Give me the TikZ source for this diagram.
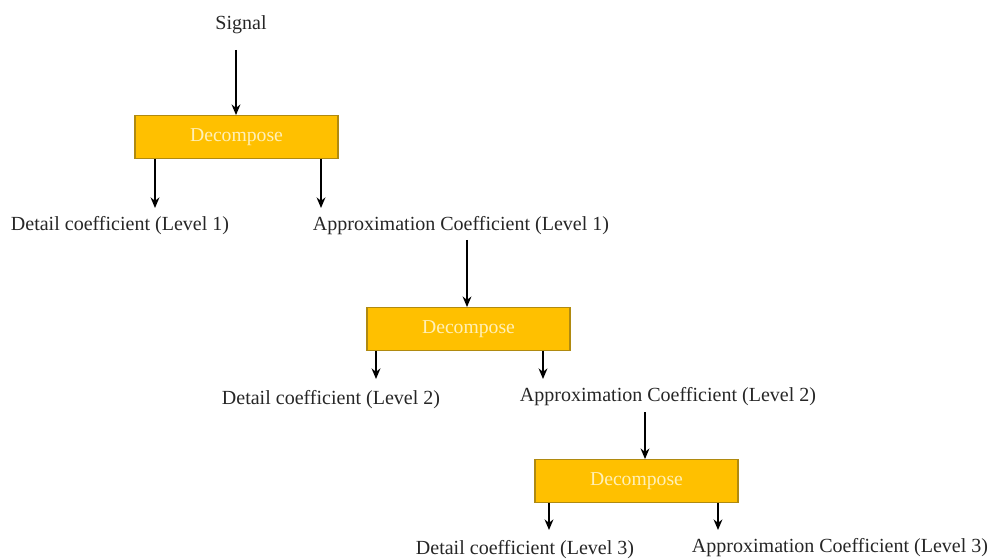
\documentclass[tikz,border=0pt]{standalone}
\usepackage{fontspec}
\setmainfont{Liberation Serif}
\usetikzlibrary{arrows.meta}
\definecolor{boxfill}{HTML}{FFC000}
\definecolor{boxedge}{HTML}{B08A10}
\definecolor{boxtext}{HTML}{FFF0B8}
\tikzset{
  px/.style={x=0.02cm,y=-0.02cm},
  decbox/.style={draw=boxedge, fill=boxfill, line width=0.8pt, minimum width=4.06cm, minimum height=0.85cm, inner sep=0pt, text=boxtext, font=\fontsize{11.2}{13}\selectfont},
  lbl/.style={font=\fontsize{11.4}{13}\selectfont, inner sep=0pt, text=black!85},
  arr/.style={-{Stealth[length=6pt,width=5pt]}, line width=1.1pt, black}
}
\begin{document}
\begin{tikzpicture}[px]
\useasboundingbox (0,0) rectangle (993,560);
\node[lbl] (sig) at (241,25) {Signal};
\node[decbox] (d1) at (236.5,137) {Decompose};
\node[lbl] (det1) at (120,226) {Detail coefficient (Level 1)};
\node[lbl] (app1) at (461,226) {Approximation Coefficient (Level 1)};
\node[decbox] (d2) at (468.5,329) {Decompose};
\node[lbl] (det2) at (331,400) {Detail coefficient (Level 2)};
\node[lbl] (app2) at (668,397) {Approximation Coefficient (Level 2)};
\node[decbox] (d3) at (636.5,481) {Decompose};
\node[lbl] (det3) at (525,550) {Detail coefficient (Level 3)};
\node[lbl] (app3) at (840,548) {Approximation Coefficient (Level 3)};
\coordinate (s0) at (236,50);
\draw[arr] (s0) -- (s0 |- d1.north);
\coordinate (a1) at (155,0);
\coordinate (b1) at (321,0);
\draw[arr] (a1 |- d1.south) -- (155,208);
\draw[arr] (b1 |- d1.south) -- (321,208);
\coordinate (s1) at (467,240);
\draw[arr] (s1) -- (s1 |- d2.north);
\coordinate (a2) at (376,0);
\coordinate (b2) at (543,0);
\draw[arr] (a2 |- d2.south) -- (376,379);
\draw[arr] (b2 |- d2.south) -- (543,379);
\coordinate (s2) at (645,412);
\draw[arr] (s2) -- (s2 |- d3.north);
\coordinate (a3) at (549,0);
\coordinate (b3) at (718,0);
\draw[arr] (a3 |- d3.south) -- (549,530);
\draw[arr] (b3 |- d3.south) -- (718,530);
\end{tikzpicture}
\end{document}
